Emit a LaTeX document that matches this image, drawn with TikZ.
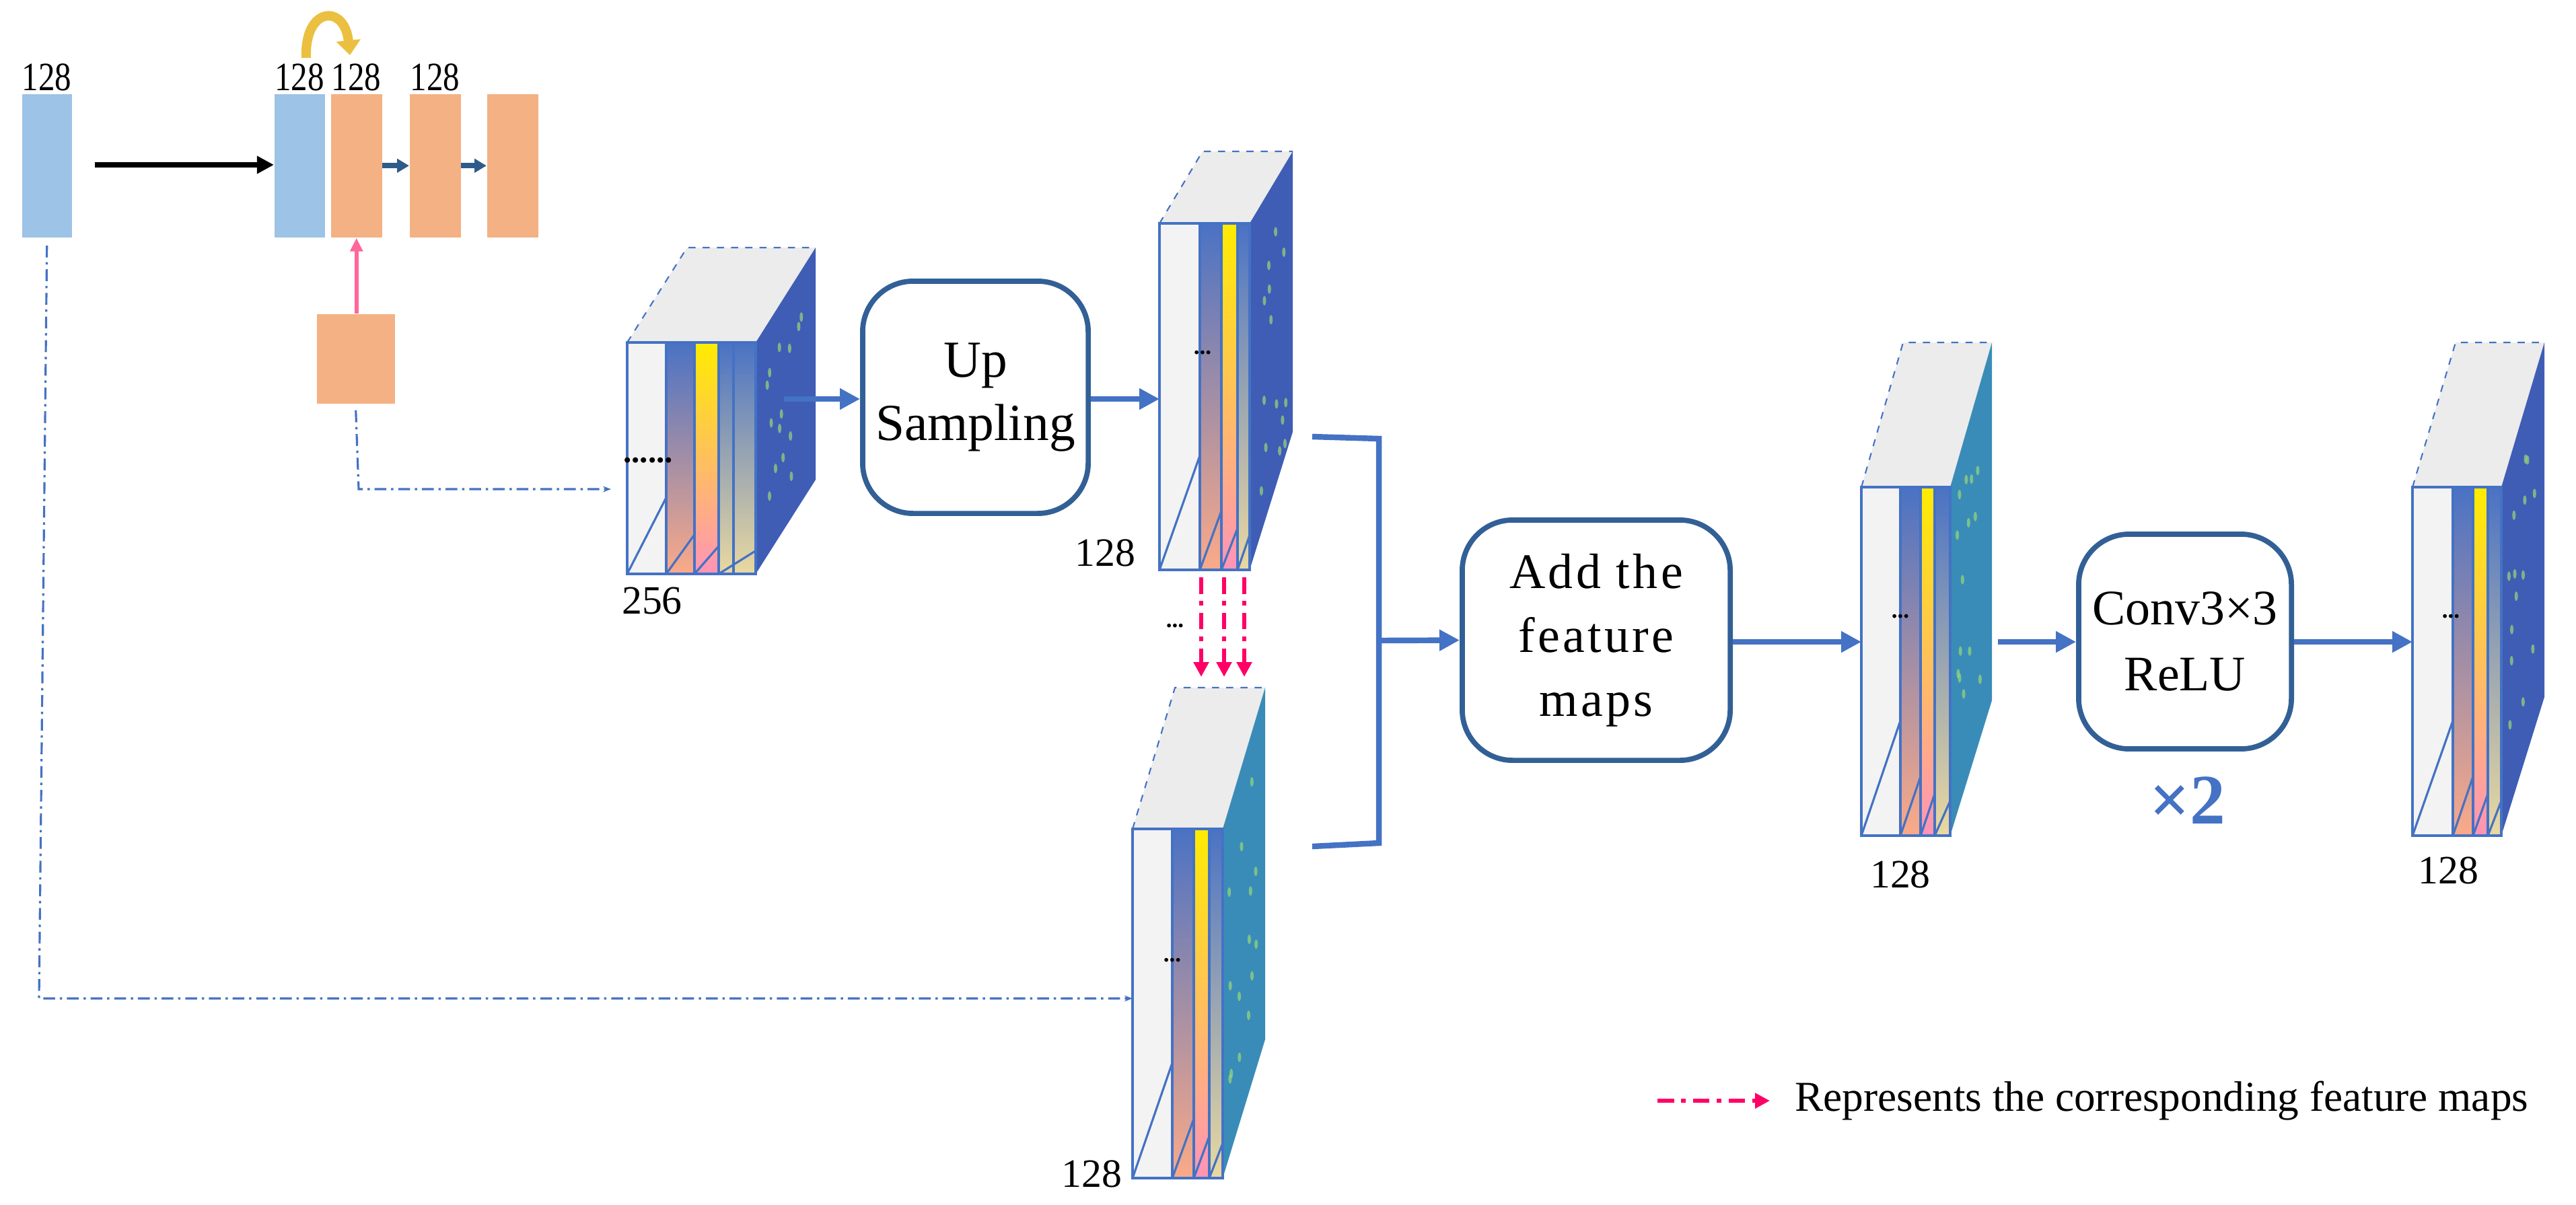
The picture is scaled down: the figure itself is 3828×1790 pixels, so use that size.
\documentclass[tikz,border=0pt]{standalone}
\usepackage{graphicx}
\usepackage{fontspec}
\setmainfont{LiberationSerif}[Extension=.ttf,UprightFont=*-Regular,BoldFont=*-Bold,ItalicFont=*-Italic]
\usetikzlibrary{arrows.meta,calc}
\definecolor{lb}{HTML}{9DC3E6}
\definecolor{org}{HTML}{F4B183}
\definecolor{bl}{HTML}{4472C4}
\definecolor{navy}{HTML}{2E5C8A}
\definecolor{pk}{HTML}{FF0066}
\definecolor{pk2}{HTML}{FF6699}
\definecolor{gold}{HTML}{EBC040}
\definecolor{sblue}{HTML}{4A72C4}
\definecolor{salmon}{HTML}{FBAA88}
\definecolor{beige}{HTML}{EAD9A0}
\definecolor{facedark}{HTML}{3F5DB5}
\definecolor{faceteal}{HTML}{3A8CB8}
\definecolor{topc}{HTML}{ECECEC}
\definecolor{frontc}{HTML}{F3F3F3}
\tikzset{
  lbl/.style={font=\rmfamily\fontsize{17}{19}\selectfont},
  box/.style={draw=navy!80!bl,line width=2.2pt,rounded corners=0.75cm,align=center,
              font=\rmfamily\fontsize{22}{25}\selectfont,inner sep=0pt},
  flow/.style={draw=bl,line width=2.4pt,-{Triangle[length=0.3cm,width=0.3cm]}},
  dd/.style={draw=bl,line width=0.9pt,dash pattern=on 5pt off 2pt on 1pt off 2pt},
  pkd/.style={draw=pk,line width=1.8pt,dash pattern=on 7pt off 3pt on 2pt off 3pt,-{Triangle[length=0.22cm,width=0.22cm]}},
  edge/.style={draw=bl,line width=0.9pt},
}
\newcommand\nlab[1]{\scalebox{0.82}[1]{#1}}
% #1 fl #2 fr #3 ft #4 fb #5 dx #6 bt #7 bb #8 face color
\newcommand\fmbody[8]{%
  \fill[topc] (#1,#3) -- ({#1+#5},#6) -- ({#2+#5},#6) -- (#2,#3) -- cycle;
  \draw[edge,dashed,line width=0.6pt] (#1,#3) -- ({#1+#5},#6) -- ({#2+#5},#6);
  \fill[#8] (#2,#3) -- ({#2+#5},#6) -- ({#2+#5},#7) -- (#2,#4) -- cycle;
  \foreach \i in {1,...,14}{
    \pgfmathsetmacro\tx{rnd}\pgfmathsetmacro\ty{rnd}
    \fill[yellow!60!cyan,opacity=0.7] ({#2+(0.15+0.7*\tx)*#5},{#3+(#4-#3)*(0.1+0.75*\ty)+(#6-#3)*(0.15+0.7*\tx)}) ellipse (2.5 and 7);
  }
  \fill[frontc] (#1,#3) rectangle (#2,#4);
}
% #1 fl #2 s1 #3 s2 #4 s3 #5 fr #6 ft #7 fb
\newcommand\fmslices[7]{%
  \shade[top color=sblue,bottom color=salmon] (#2,#6) rectangle (#3,#7);
  \shade[top color=yellow!85!orange,middle color=yellow,bottom color=pk2!70!white] (#3,#6) rectangle (#4,#7);
  \shade[top color=sblue,bottom color=beige] (#4,#6) rectangle (#5,#7);
  \draw[edge] (#1,#6) rectangle (#5,#7);
  \draw[edge] (#2,#6) -- (#2,#7) (#3,#6) -- (#3,#7) (#4,#6) -- (#4,#7);
  \draw[edge] (#1,#7) -- ($(#2,#7)+(0,{-0.33*(#7-#6)})$);
  \draw[edge] (#2,#7) -- ($(#3,#7)+(0,{-0.17*(#7-#6)})$);
  \draw[edge] (#3,#7) -- ($(#4,#7)+(0,{-0.12*(#7-#6)})$);
  \draw[edge] (#4,#7) -- ($(#5,#7)+(0,{-0.1*(#7-#6)})$);
}
\begin{document}
\begin{tikzpicture}[x=0.01cm,y=-0.01cm]
\pgfmathsetseed{7}
\useasboundingbox (0,0) rectangle (3828,1790);
\fill[white] (0,0) rectangle (3828,1790);

% ---- top-left block diagram
\node[fill=lb,minimum width=0.74cm,minimum height=2.13cm,inner sep=0pt,anchor=north west] (b1) at (32,139) {};
\node[fill=lb,minimum width=0.75cm,minimum height=2.13cm,inner sep=0pt,anchor=north west] (b2) at (407,139) {};
\node[fill=org,minimum width=0.76cm,minimum height=2.13cm,inner sep=0pt,anchor=north west] (o1) at (491,139) {};
\node[fill=org,minimum width=0.76cm,minimum height=2.13cm,inner sep=0pt,anchor=north west] (o2) at (608,139) {};
\node[fill=org,minimum width=0.76cm,minimum height=2.13cm,inner sep=0pt,anchor=north west] (o3) at (723,139) {};
\node[fill=org,minimum width=1.16cm,minimum height=1.33cm,inner sep=0pt,anchor=north west] (ob) at (470,466) {};
\node[lbl,anchor=south,inner sep=1pt] (t1) at (b1.north) {\nlab{128}};
\node[lbl,anchor=south,inner sep=1pt] (t2) at (b2.north) {\nlab{128}};
\node[lbl,anchor=south,inner sep=1pt] (t3) at (o1.north) {\nlab{128}};
\node[lbl,anchor=south,inner sep=1pt] (t4) at (o2.north) {\nlab{128}};
\draw[line width=2.2pt,-{Triangle[length=0.25cm,width=0.25cm]}] (141,245) -- (b2.west |- 0,245);
\draw[navy,line width=2.2pt,-{Triangle[length=0.18cm,width=0.2cm]}] (o1.east) -- (o2.west);
\draw[navy,line width=2.2pt,-{Triangle[length=0.18cm,width=0.2cm]}] (o2.east) -- (o3.west);
\draw[pk2,line width=1.6pt,-{Triangle[length=0.2cm,width=0.18cm]}] (ob.north -| o1.center) -- (o1.south);
\draw[gold,line width=4pt,-{Triangle[length=0.22cm,width=0.35cm]}] (455,86) .. controls (452,10) and (512,5) .. (520,82);

% ---- cube 1 (256)
\fmbody{932}{1123}{509}{853}{89}{368}{713}{facedark}
\fmslices{932}{990}{1032}{1068}{1123}{509}{853}
\draw[edge] (1068,509)--(1068,853) (1090,509)--(1090,853);
\node[font=\fontsize{14}{16}\selectfont] at (963,684) {\textbf{......}};
\node[lbl] (l256) at (969,893) {256};
\coordinate (c1in) at (932,745);
\coordinate (c1out) at (1165,593);

% ---- Up sampling
\node[box,minimum width=3.35cm,minimum height=3.45cm] (up) at (1449.5,590.5) {Up\\[2pt]Sampling};

% ---- cube 2
\fmbody{1723}{1857}{332}{847}{64}{225}{642}{facedark}
\fmslices{1723}{1783}{1815}{1839}{1857}{332}{847}
\node[font=\bfseries] at (1787,524) {...};
\node[lbl,anchor=east] (l2) at (1700,822) {128};
\coordinate (c2in) at (1723,593);

% ---- cube 3
\fmbody{1683}{1817}{1232}{1751}{63}{1022}{1545}{faceteal}
\fmslices{1683}{1742}{1774}{1797}{1817}{1232}{1751}
\node[font=\bfseries] at (1742,1427) {...};
\node[lbl,anchor=east] (l3) at (1680,1745) {128};
\coordinate (c3in) at (1683,1484);

% pink corresponding arrows
\foreach \x in {1785,1819,1849}{
  \coordinate (pa\x) at (\x,858); \coordinate (pb\x) at (\x,1006);
  \draw[pkd] (pa\x) -- (pb\x);}
\node[font=\bfseries] at (1746,930) {...};

% bracket
\coordinate (bk1) at (1950,649); \coordinate (bk2) at (2049,652);
\coordinate (bk3) at (2049,1253); \coordinate (bk4) at (1950,1258);
\coordinate (bkm) at (2049,952);
\draw[bl,line width=2.4pt] (bk1) -- (bk2) -- (bk3) -- (bk4);

% ---- Add box
\node[box,minimum width=3.98cm,minimum height=3.57cm,font=\rmfamily\fontsize{21}{27}\selectfont\addfontfeatures{LetterSpace=6}] (add) at (2372,951.5) {Add the\\feature\\maps};
\draw[flow] (bkm) -- (add.west);

% ---- cube 4
\fmbody{2766}{2898}{724}{1242}{62}{509}{1041}{faceteal}
\fmslices{2766}{2824}{2854}{2875}{2898}{724}{1242}
\node[font=\bfseries] at (2824,916) {...};
\node[lbl] (l4) at (2824,1300) {128};
\coordinate (c4in) at (2766,954);
\coordinate (c4out) at (2969,954);

% ---- Conv box
\node[box,minimum width=3.16cm,minimum height=3.19cm,font=\rmfamily\fontsize{21}{24}\selectfont] (conv) at (3247,953.5) {Conv3×3\\[4pt]ReLU};
\node[text=bl,font=\rmfamily\fontsize{30}{32}\selectfont\bfseries] (x2) at (3251,1190) {×2};

% ---- cube 5
\fmbody{3585}{3717}{724}{1242}{64}{509}{1036}{facedark}
\fmslices{3585}{3645}{3675}{3697}{3717}{724}{1242}
\node[font=\bfseries] at (3642,916) {...};
\node[lbl] (l5) at (3638,1294) {128};
\coordinate (c5in) at (3585,954);

% ---- flow arrows
\draw[flow] (c1out) -- (up.west |- c1out);
\draw[flow] (up.east |- c2in) -- (c2in);
\draw[flow] (add.east |- c4in) -- (c4in);
\draw[flow] (c4out) -- (conv.west |- c4out);
\draw[flow] (conv.east |- c5in) -- (c5in);

% ---- dotted skip lines
\coordinate (d1) at (58,1484);
\draw[dd,-{Stealth[length=0.12cm]}] (b1.south |- 0,365) -- (d1) -- (c3in);
\coordinate (d2) at (533,727);
\draw[dd,-{Stealth[length=0.12cm]}] (ob.south |- 0,610) -- (d2) -- (908,727);

% ---- legend
\coordinate (lg1) at (2463,1636); \coordinate (lg2) at (2630,1636);
\draw[pkd] (lg1) -- (lg2);
\node[font=\rmfamily\fontsize{18}{20}\selectfont,anchor=west] (lgt) at (2655,1636) {Represents the corresponding feature maps};
\end{tikzpicture}
\end{document}
